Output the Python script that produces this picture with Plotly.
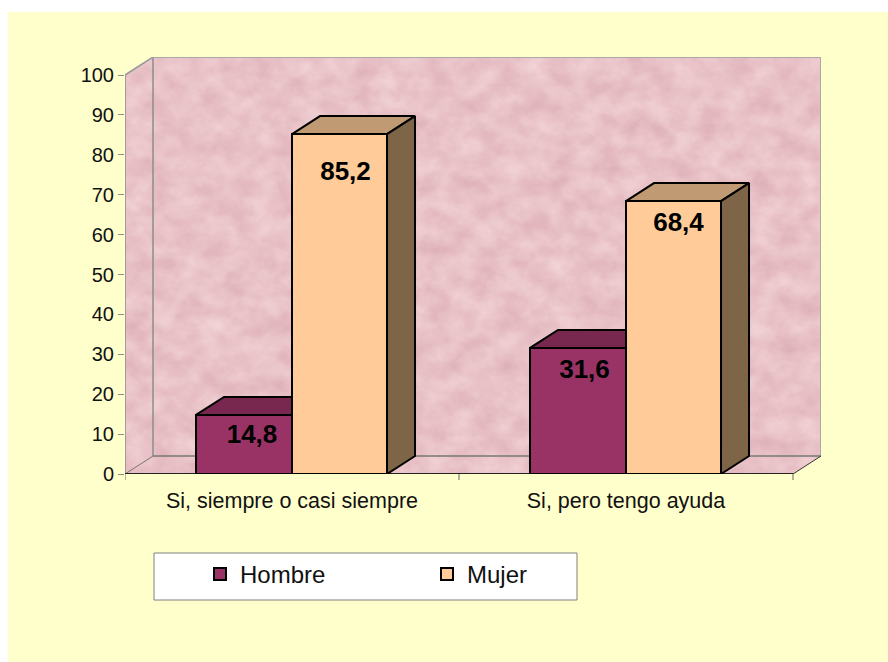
import base64
import plotly.graph_objects as go

categories = ["Si, siempre o casi siempre", "Si, pero tengo ayuda"]
hombre = [14.8, 31.6]
mujer = [85.2, 68.4]
y_ticks = [0, 10, 20, 30, 40, 50, 60, 70, 80, 90, 100]

FONT = "Liberation Sans, Arial, sans-serif"
PW, PH = 696, 417            # plot area in px
PX_X, PX_Y = 334.0, 3.99     # px per category / per value unit
DX, DY = 28 / PX_X, 18 / PX_Y  # 3-D depth in axis units
BW_H = 0.2874                # bar widths in category units
BW_M = 0.2845
SLOT = 0.5

# mottled wall texture (SVG turbulence)
svg = f'''<svg xmlns="http://www.w3.org/2000/svg" width="{PW}" height="{PH}" viewBox="0 0 {PW} {PH}">
<defs>
<filter id="m" x="0" y="0" width="100%" height="100%" color-interpolation-filters="sRGB">
<feTurbulence type="fractalNoise" baseFrequency="0.04 0.05" numOctaves="4" seed="7"/>
<feColorMatrix type="matrix" values="0.10 0 0 0 0.86  0.17 0 0 0 0.675  0.15 0 0 0 0.705  0 0 0 0 1"/>
</filter>
<clipPath id="c"><polygon points="0,18 28,0 {PW},0 {PW},399 {PW-28},{PH} 0,{PH}"/></clipPath>
</defs>
<g clip-path="url(#c)"><rect width="{PW}" height="{PH}" filter="url(#m)"/></g>
</svg>'''
wall = "data:image/svg+xml;base64," + base64.b64encode(svg.encode()).decode()

fig = go.Figure()

h_x = [i + SLOT - BW_H / 2 for i in range(2)]
m_x = [i + SLOT + BW_M / 2 for i in range(2)]

fig.add_bar(x=h_x, y=hombre, width=BW_H, name="Hombre", cliponaxis=False,
            marker=dict(color="#993366", line=dict(color="black", width=2)))
fig.add_bar(x=m_x, y=mujer, width=BW_M, name="Mujer", cliponaxis=False,
            marker=dict(color="#FFCC99", line=dict(color="black", width=2)))


def face(xs, ys, color):
    fig.add_scatter(x=xs, y=ys, mode="lines", fill="toself", fillcolor=color, cliponaxis=False,
                    line=dict(color="black", width=2), showlegend=False, hoverinfo="skip")


for i in range(2):
    # visible part of the Hombre top, cut off by the Mujer bar in front of it
    x0, x1 = h_x[i] - BW_H / 2, h_x[i] + BW_H / 2
    v = hombre[i]
    face([x0, x1, x1, x0 + DX, x0], [v, v, v + DY, v + DY, v], "#78284F")
    x0, x1 = m_x[i] - BW_M / 2, m_x[i] + BW_M / 2
    v = mujer[i]
    face([x0, x1, x1 + DX, x0 + DX, x0], [v, v, v + DY, v + DY, v], "#BF9A72")
    face([x1, x1 + DX, x1 + DX, x1, x1], [0, DY, v + DY, v, 0], "#7F6548")

# data labels
label_dx = [[8 / PX_X, 6 / PX_X], [6.5 / PX_X, 5 / PX_X]]
label_dy = [[22 / PX_Y, 39.5 / PX_Y], [24 / PX_Y, 23.5 / PX_Y]]
lx, ly, lt = [], [], []
for i in range(2):
    for j, (xs, vals) in enumerate(((h_x, hombre), (m_x, mujer))):
        lx.append(xs[i] + label_dx[i][j])
        ly.append(vals[i] - label_dy[i][j])
        lt.append(f"{vals[i]:.1f}".replace(".", ","))
fig.add_scatter(x=lx, y=ly, text=lt, mode="text", showlegend=False, hoverinfo="skip", cliponaxis=False,
                textposition="middle center",
                textfont=dict(family=FONT, size=26, color="black", weight="bold"))

GREY = "#8c8c8c"
shapes = []


def seg(x0, y0, x1, y1, color=GREY, width=1.5):
    shapes.append(dict(type="line", xref="x", yref="y", x0=x0, y0=y0, x1=x1, y1=y1,
                       line=dict(color=color, width=width), layer="below"))


top = 100
right = 2
seg(DX, DY, DX, top + DY)
seg(DX, top + DY, right + DX, top + DY, "#aaaaaa", 2)
seg(right + DX, top + DY, right + DX, DY, "#aaaaaa", 2)
seg(DX, DY, right + DX, DY, "#777777", 1.5)
seg(0, 0, 0, top)
seg(0, top, DX, top + DY, "#999999", 1.5)
seg(0, 0, DX, DY, "#777777", 1)
seg(right, 0, right + DX, DY, "#333333", 1)
seg(0, 0, right, 0, "#222222", 2)
# x tick marks
for tx in (0, 1, 2):
    shapes.append(dict(type="line", xref="x", yref="paper", x0=tx, x1=tx, y0=0, y1=-6 / PH,
                       line=dict(color="#666666", width=1)))
# legend box
shapes.append(dict(type="rect", xref="paper", yref="paper",
                   x0=29 / PW, x1=452 / PW, y0=-79 / PH, y1=-126 / PH,
                   fillcolor="white", line=dict(color="#808080", width=1)))

fig.update_layout(
    width=880, height=650, autosize=False,
    margin=dict(l=117, r=67, t=45, b=188, pad=0),
    paper_bgcolor="#FFFFCC", plot_bgcolor="rgba(0,0,0,0)",
    font=dict(family=FONT, color="#111111"),
    barmode="overlay", showlegend=True, shapes=shapes,
    images=[dict(source=wall, xref="paper", yref="paper", x=0, y=1, sizex=1, sizey=1,
                 xanchor="left", yanchor="top", sizing="stretch", layer="below")],
    xaxis=dict(range=[0, PW / PX_X], tickmode="array", tickvals=[0.5, 1.5], ticktext=categories,
               ticks="outside", ticklen=7, tickcolor="rgba(0,0,0,0)", showgrid=False, zeroline=False,
               showline=False, tickfont=dict(size=21.5, family=FONT)),
    yaxis=dict(range=[0, PH / PX_Y], tickmode="array", tickvals=y_ticks,
               ticks="outside", ticklen=6, tickcolor=GREY, showgrid=False, zeroline=False,
               showline=False, tickfont=dict(size=20, family=FONT)),
    legend=dict(orientation="h", x=75 / PW, y=-100.5 / PH, xanchor="left", yanchor="middle",
                entrywidth=182, entrywidthmode="pixels", bgcolor="rgba(0,0,0,0)", borderwidth=0,
                font=dict(size=24, family=FONT), traceorder="normal"),
)

post = ("document.body.style.margin='12px 0 0 8px';"
        "document.documentElement.style.overflow='hidden';")
fig.write_html("out.html", post_script=post)
